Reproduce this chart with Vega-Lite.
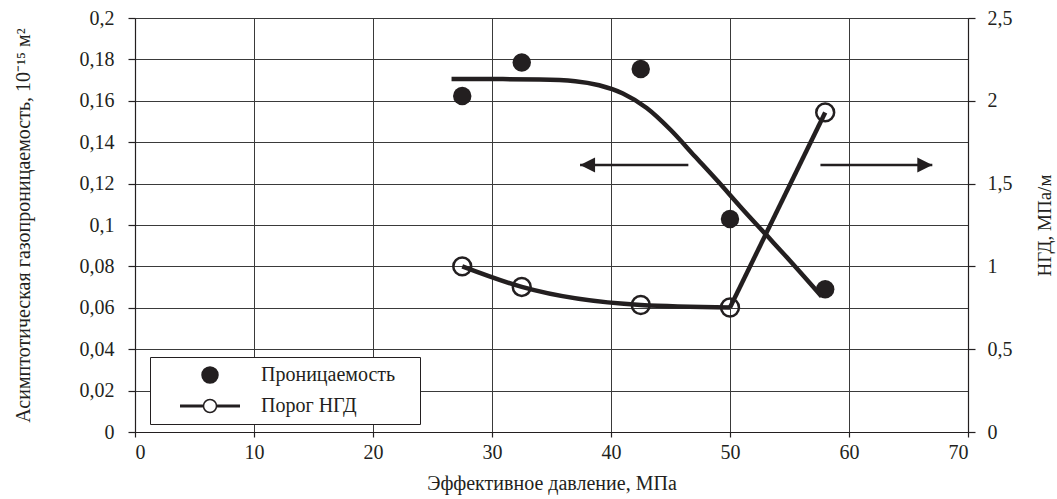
{
  "$schema": "https://vega.github.io/schema/vega-lite/v6.json",
  "autosize": "none",
  "padding": {"left": 135, "top": 18, "right": 89, "bottom": 67},
  "width": 833,
  "height": 414,
  "background": "white",
  "config": {
    "font": "Liberation Serif",
    "view": {"stroke": null},
    "axis": {
      "labelFont": "Liberation Serif",
      "titleFont": "Liberation Serif",
      "labelFontSize": 20,
      "titleFontSize": 20,
      "labelColor": "#231f20",
      "titleColor": "#231f20",
      "titleFontWeight": "normal",
      "domainColor": "#231f20",
      "tickColor": "#231f20",
      "gridColor": "#3a3a3a",
      "gridOpacity": 1,
      "gridWidth": 1,
      "domainWidth": 1.2,
      "tickWidth": 1.2
    },
    "legend": {"labelFont": "Liberation Serif"}
  },
  "datasets": {
    "perm": [
      {"p": 27.5, "k": 0.1623},
      {"p": 32.5, "k": 0.1785},
      {"p": 42.5, "k": 0.1754},
      {"p": 50, "k": 0.1029},
      {"p": 58, "k": 0.069}
    ],
    "trend": [
      {"p": 26.6, "k": 0.1705},
      {"p": 30, "k": 0.1705},
      {"p": 34, "k": 0.1703},
      {"p": 37, "k": 0.1695},
      {"p": 39, "k": 0.1675},
      {"p": 41, "k": 0.1635},
      {"p": 43, "k": 0.1565},
      {"p": 45, "k": 0.146},
      {"p": 47, "k": 0.1335},
      {"p": 49, "k": 0.121},
      {"p": 51, "k": 0.108},
      {"p": 53, "k": 0.0955},
      {"p": 55, "k": 0.083},
      {"p": 57.7, "k": 0.0655}
    ],
    "ngd": [
      {"p": 27.5, "g": 1.0},
      {"p": 32.5, "g": 0.876},
      {"p": 42.5, "g": 0.767},
      {"p": 50, "g": 0.752},
      {"p": 58, "g": 1.93}
    ],
    "arrows": [
      {"p_from": 46.5, "p_to": 37.4, "k": 0.129, "dir": "left"},
      {"p_from": 57.6, "p_to": 67.0, "k": 0.129, "dir": "right"}
    ],
    "series": [
      {"series": "Проницаемость"},
      {"series": "Порог НГД"}
    ]
  },
  "layer": [
    {
      "layer": [
        {
          "data": {"name": "perm"},
          "mark": {"type": "point", "filled": true, "shape": "circle", "size": 340, "color": "#231f20", "opacity": 1},
          "encoding": {
            "x": {
              "field": "p", "type": "quantitative",
              "scale": {"domain": [0, 70], "nice": false},
              "axis": {
                "values": [0, 10, 20, 30, 40, 50, 60, 70],
                "title": "Эффективное давление, МПа",
                "grid": true,
                "tickSize": 5,
                "labelPadding": 5,
                "titlePadding": 11
              }
            },
            "y": {
              "field": "k", "type": "quantitative",
              "scale": {"domain": [0, 0.2], "nice": false},
              "axis": {
                "orient": "left",
                "values": [0, 0.02, 0.04, 0.06, 0.08, 0.1, 0.12, 0.14, 0.16, 0.18, 0.2],
                "labelExpr": "replace(format(datum.value, ''), '.', ',')",
                "title": "Асимптотическая газопроницаемость, 10⁻¹⁵ м²",
                "grid": true,
                "tickSize": 7,
                "labelPadding": 14,
                "titlePadding": 46
              }
            }
          }
        },
        {
          "data": {"name": "trend"},
          "mark": {"type": "line", "interpolate": "monotone", "color": "#231f20", "strokeWidth": 4.5},
          "encoding": {
            "x": {"field": "p", "type": "quantitative"},
            "y": {"field": "k", "type": "quantitative"}
          }
        },
        {
          "data": {"name": "arrows"},
          "mark": {"type": "rule", "color": "#231f20", "strokeWidth": 2.6},
          "encoding": {
            "x": {"field": "p_from", "type": "quantitative"},
            "x2": {"field": "p_to"},
            "y": {"field": "k", "type": "quantitative"}
          }
        },
        {
          "data": {"name": "arrows"},
          "transform": [{"filter": "datum.dir === 'left'"}],
          "mark": {"type": "point", "filled": true, "color": "#231f20", "opacity": 1, "size": 225, "shape": "M0,0L2,-1L2,1Z"},
          "encoding": {
            "x": {"field": "p_to", "type": "quantitative"},
            "y": {"field": "k", "type": "quantitative"}
          }
        },
        {
          "data": {"name": "arrows"},
          "transform": [{"filter": "datum.dir === 'right'"}],
          "mark": {"type": "point", "filled": true, "color": "#231f20", "opacity": 1, "size": 225, "shape": "M0,0L-2,-1L-2,1Z"},
          "encoding": {
            "x": {"field": "p_to", "type": "quantitative"},
            "y": {"field": "k", "type": "quantitative"}
          }
        },
        {
          "data": {"name": "series"},
          "mark": {"type": "point", "filled": true, "opacity": 0, "stroke": "#231f20", "strokeWidth": 2.5, "size": 169},
          "encoding": {
            "shape": {
              "field": "series", "type": "nominal",
              "scale": {
                "domain": ["Проницаемость", "Порог НГД"],
                "range": [
                  "M-1.23,0A1.23,1.23 0 1,0 1.23,0A1.23,1.23 0 1,0 -1.23,0Z",
                  "M-4.5,-0.1L-1.05,-0.1L-1.05,0.1L-4.5,0.1ZM1.05,-0.1L4.5,-0.1L4.5,0.1L1.05,0.1ZM-1,0A1,1 0 1,0 1,0A1,1 0 1,0 -1,0Z"
                ]
              },
              "legend": {
                "title": "x",
                "titleOrient": "right",
                "titleFontSize": 10,
                "titlePadding": 12,
                "titleColor": "rgba(0,0,0,0)",
                "orient": "none",
                "legendX": 15,
                "legendY": 339,
                "padding": 8,
                "strokeColor": "#231f20",
                "fillColor": "#ffffff",
                "symbolOpacity": 1,
                "symbolSize": 169,
                "symbolOffset": 42,
                "labelOffset": 41,
                "labelFontSize": 20,
                "labelColor": "#231f20",
                "rowPadding": 10,
                "encode": {
                  "symbols": {
                    "update": {
                      "stroke": {"value": "#231f20"},
                      "strokeWidth": {"value": 2.6},
                      "opacity": {"value": 1}
                    }
                  }
                }
              }
            },
            "fill": {
              "field": "series", "type": "nominal",
              "scale": {"domain": ["Проницаемость", "Порог НГД"], "range": ["#231f20", "#ffffff"]},
              "legend": {
                "title": "x",
                "titleOrient": "right",
                "titleFontSize": 10,
                "titlePadding": 12,
                "titleColor": "rgba(0,0,0,0)",
                "orient": "none",
                "legendX": 15,
                "legendY": 339,
                "padding": 8,
                "strokeColor": "#231f20",
                "fillColor": "#ffffff",
                "symbolOpacity": 1,
                "symbolSize": 169,
                "symbolOffset": 42,
                "labelOffset": 41,
                "labelFontSize": 20,
                "labelColor": "#231f20",
                "rowPadding": 10,
                "encode": {
                  "symbols": {
                    "update": {
                      "stroke": {"value": "#231f20"},
                      "strokeWidth": {"value": 2.6},
                      "opacity": {"value": 1}
                    }
                  }
                }
              }
            }
          }
        }
      ]
    },
    {
      "layer": [
        {
          "data": {"name": "ngd"},
          "transform": [{"filter": "datum.p <= 50"}],
          "mark": {"type": "line", "interpolate": "monotone", "color": "#231f20", "strokeWidth": 4.5},
          "encoding": {
            "x": {"field": "p", "type": "quantitative"},
            "y": {
              "field": "g", "type": "quantitative",
              "scale": {"domain": [0, 2.5], "nice": false},
              "axis": {
                "orient": "right",
                "values": [0, 0.5, 1, 1.5, 2, 2.5],
                "labelExpr": "replace(format(datum.value, ''), '.', ',')",
                "title": "НГД, МПа/м",
                "titleAngle": 270,
                "titleFontSize": 19,
                "grid": false,
                "tickSize": 7,
                "labelPadding": 12,
                "titlePadding": 42
              }
            }
          }
        },
        {
          "data": {"name": "ngd"},
          "transform": [{"filter": "datum.p >= 50"}],
          "mark": {"type": "line", "interpolate": "linear", "color": "#231f20", "strokeWidth": 4.5},
          "encoding": {
            "x": {"field": "p", "type": "quantitative"},
            "y": {"field": "g", "type": "quantitative"}
          }
        },
        {
          "data": {"name": "ngd"},
          "mark": {"type": "point", "filled": false, "shape": "circle", "size": 320, "color": "#231f20", "strokeWidth": 2.5, "opacity": 1},
          "encoding": {
            "x": {"field": "p", "type": "quantitative"},
            "y": {"field": "g", "type": "quantitative"}
          }
        }
      ]
    }
  ],
  "resolve": {"scale": {"y": "independent"}}
}
